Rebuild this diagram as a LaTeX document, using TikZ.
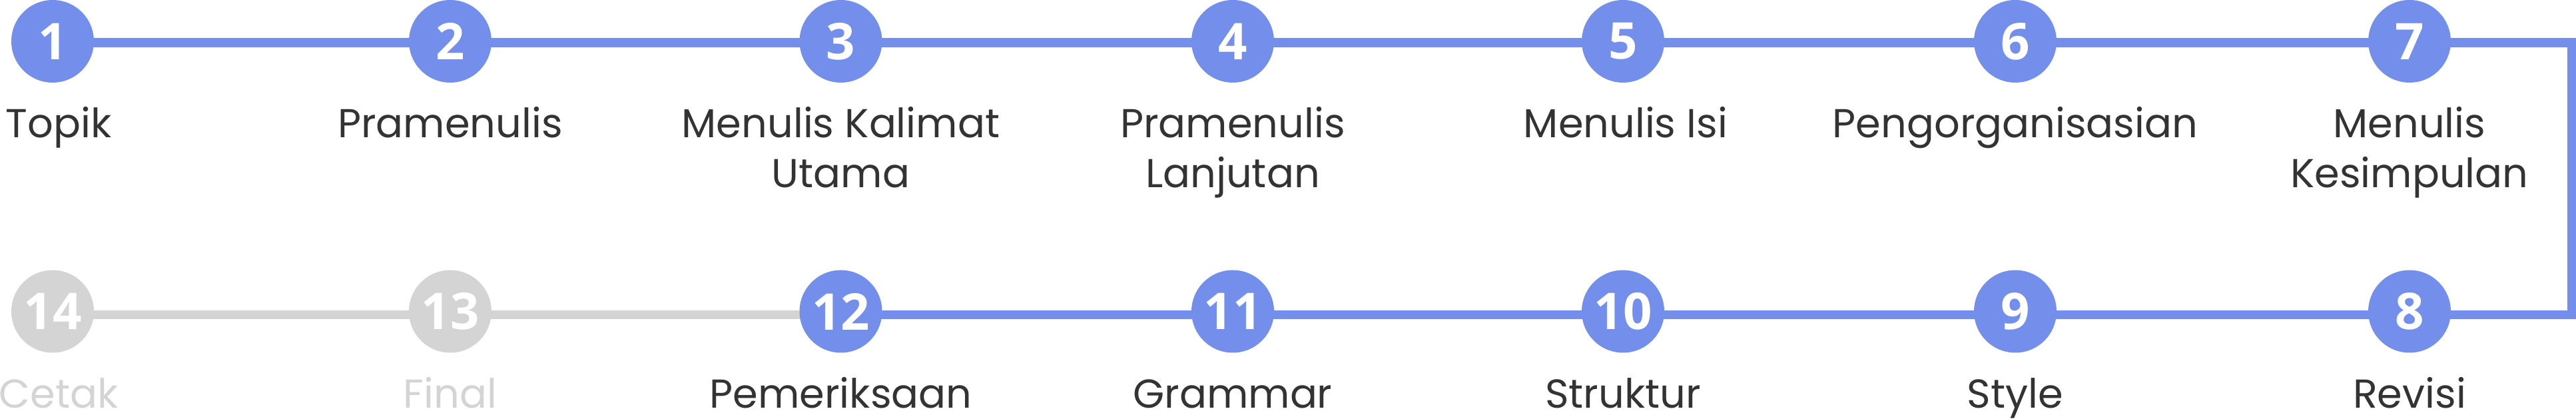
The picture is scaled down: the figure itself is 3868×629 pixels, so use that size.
\documentclass[tikz,border=0pt]{standalone}
\usepackage{fontspec}
\setmainfont{Poppins}
\newfontfamily\numfont{Open Sans}
\usetikzlibrary{backgrounds}
\definecolor{stepblue}{RGB}{116,143,235}
\definecolor{stepgray}{RGB}{212,212,212}
\definecolor{labeltext}{RGB}{51,51,51}
\begin{document}
\begin{tikzpicture}[x=0.25pt,y=-0.25pt,
  stepcirc/.style={circle, fill=stepblue, minimum size=31pt, inner sep=0pt, text=white,
    font=\numfont\bfseries\fontsize{19}{20}\selectfont},
  stepdone/.style={stepcirc, fill=stepgray},
  steplabel/.style={anchor=base, inner sep=0pt, text=labeltext,
    font=\fontsize{15.15}{18.75}\selectfont},
  labelfaded/.style={steplabel, text=stepgray},
  blueline/.style={draw=stepblue, line width=3.375pt, line join=miter},
  grayline/.style={draw=stepgray, line width=3.375pt}]
\useasboundingbox (0,0) rectangle (3868,629);
% row 1
\node[stepcirc] (n1) at (79,62) {1};
\node[stepcirc] (n2) at (676,62) {2};
\node[stepcirc] (n3) at (1262.5,62) {3};
\node[stepcirc] (n4) at (1851,62) {4};
\node[stepcirc] (n5) at (2437,62) {5};
\node[stepcirc] (n6) at (3026,62) {6};
\node[stepcirc] (n7) at (3618,62) {7};
% row 2
\node[stepcirc] (n8) at (3618,467.5) {8};
\node[stepcirc] (n9) at (3026,467.5) {9};
\node[stepcirc] (n10) at (2437,467.5) {10};
\node[stepcirc] (n11) at (1851,467.5) {11};
\node[stepcirc] (n12) at (1262.5,467.5) {12};
\node[stepdone] (n13) at (676,467.5) {13};
\node[stepdone] (n14) at (79,467.5) {14};
% corner
\coordinate (c1) at (3861.5,64);
\coordinate (c2) at (3861.5,472.5);
\begin{scope}[on background layer]
\draw[grayline] ([yshift=-1.25pt]n12.center) -- ([yshift=-1.25pt]n14.center);
\draw[blueline] ([yshift=-0.5pt]n1.center) -- ([yshift=-0.5pt]n7.center) -- (c1) -- (c2)
  -- ([yshift=-1.25pt]n8.center) -- ([yshift=-1.25pt]n12.center);
\end{scope}
% labels row 1
\node[steplabel] (l1) at (88,207) {Topik};
\node[steplabel] (l2) at (676,207) {Pramenulis};
\node[steplabel] (l3) at (1262.5,207) {\begin{tabular}[t]{@{}c@{}}Menulis Kalimat\\Utama\end{tabular}};
\node[steplabel] (l4) at (1851,207) {\begin{tabular}[t]{@{}c@{}}Pramenulis\\Lanjutan\end{tabular}};
\node[steplabel] (l5) at (2441,207) {Menulis Isi};
\node[steplabel] (l6) at (3026,207) {Pengorganisasian};
\node[steplabel] (l7) at (3618,207) {\begin{tabular}[t]{@{}c@{}}Menulis\\Kesimpulan\end{tabular}};
% labels row 2
\node[steplabel] (l8) at (3618,613) {Revisi};
\node[steplabel] (l9) at (3026,613) {Style};
\node[steplabel] (l10) at (2437,613) {Struktur};
\node[steplabel] (l11) at (1851,613) {Grammar};
\node[steplabel] (l12) at (1262.5,613) {Pemeriksaan};
\node[labelfaded] (l13) at (676,613) {Final};
\node[labelfaded] (l14) at (88,613) {Cetak};
\end{tikzpicture}
\end{document}
